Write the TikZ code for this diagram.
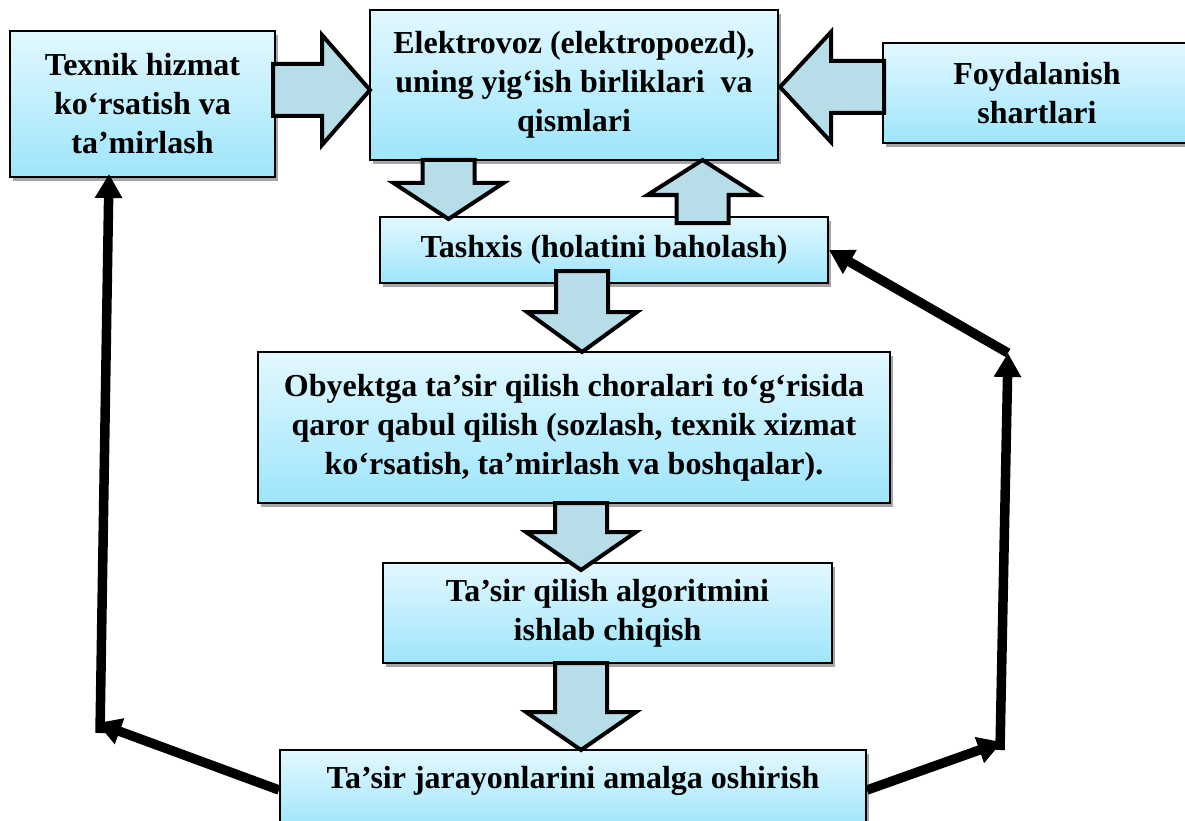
\documentclass[tikz,border=0pt]{standalone}
\usepackage{fontspec}
\setmainfont{Liberation Serif}
\usetikzlibrary{arrows.meta,shadows,calc}
\definecolor{boxtop}{RGB}{226,248,255}
\definecolor{boxbot}{RGB}{158,229,251}
\definecolor{arrfill}{RGB}{183,221,232}
\newcommand{\blockarrow}[4]{%
  \begin{scope}[shift={#1},rotate=#2]
    \draw[bigarrow] (0,-26) -- (#3-#4,-26) -- (#3-#4,-55) -- (#3,0)
      -- (#3-#4,55) -- (#3-#4,26) -- (0,26) -- cycle;
  \end{scope}}

\begin{document}
\begin{tikzpicture}[x=1pt,y=-1pt,
    box/.style={draw,line width=2pt,top color=boxtop,bottom color=boxbot,
      drop shadow={shadow xshift=3pt,shadow yshift=-4pt,fill=black,opacity=.35},
      align=center,inner sep=0pt,font=\bfseries\fontsize{32}{39}\selectfont},
    bigarrow/.style={draw,line width=4pt,fill=arrfill,line join=miter},
    link/.style={line width=9.5pt,-{Triangle[length=24pt,width=26pt]}}]
				\useasboundingbox (0,0) rectangle (1185,821);

				\node[box,minimum width=265pt,minimum height=146pt] (texnik) at (142.5,104) {Texnik hizmat\\ko‘rsatish va\\ta’mirlash};
				\node[box,minimum width=408pt,minimum height=150pt] (elektro) at (574,85) {Elektrovoz (elektropoezd),\\uning yig‘ish birliklari~ va\\qismlari};
				\node[box,minimum width=308pt,minimum height=100pt] (foyda) at (1037,93) {Foydalanish\\shartlari};
				\node[box,minimum width=448pt,minimum height=66pt] (tashxis) at (604,250) {Tashxis (holatini baholash)};
				\node[box,minimum width=632pt,minimum height=151pt] (qaror) at (574,427.5) {Obyektga ta’sir qilish choralari to‘g‘risida\\qaror qabul qilish (sozlash, texnik xizmat\\ko‘rsatish, ta’mirlash va boshqalar).};
				\node[box,minimum width=449pt,minimum height=100pt] (algo) at (607.5,613) {Ta’sir qilish algoritmini\\ishlab chiqish};
				\node[box,minimum width=586pt,minimum height=80pt,text depth=25pt] (jarayon) at (573,790) {Ta’sir jarayonlarini amalga oshirish};

				\blockarrow{(273,90)}{0}{97}{48}
				\blockarrow{(884,87)}{180}{104}{51}
				\blockarrow{(448.5,160)}{-90}{59}{36}
				\blockarrow{(702.5,223)}{90}{63}{35}
				\blockarrow{(582,271)}{-90}{81}{40}
				\blockarrow{(581,503)}{-90}{67}{38}
				\blockarrow{(581,663)}{-90}{87}{38}

				\coordinate (lcorner) at (97,723);
				\coordinate (lbottom) at (100,733);
				\coordinate (rcorner) at (1002,742);
				\coordinate (rbottom) at (1000,750);
				\coordinate (rtop) at (1008,353);
				\draw[link] (jarayon.west) to (lcorner);
				\draw[link] (lbottom) to ($(texnik.south west)+(100,-4)$);
				\draw[link] (jarayon.east) to (rcorner);
				\draw[link] (rbottom) to (rtop);
				\draw[link] (rtop) to (tashxis.east);
			\end{tikzpicture}
\end{document}
